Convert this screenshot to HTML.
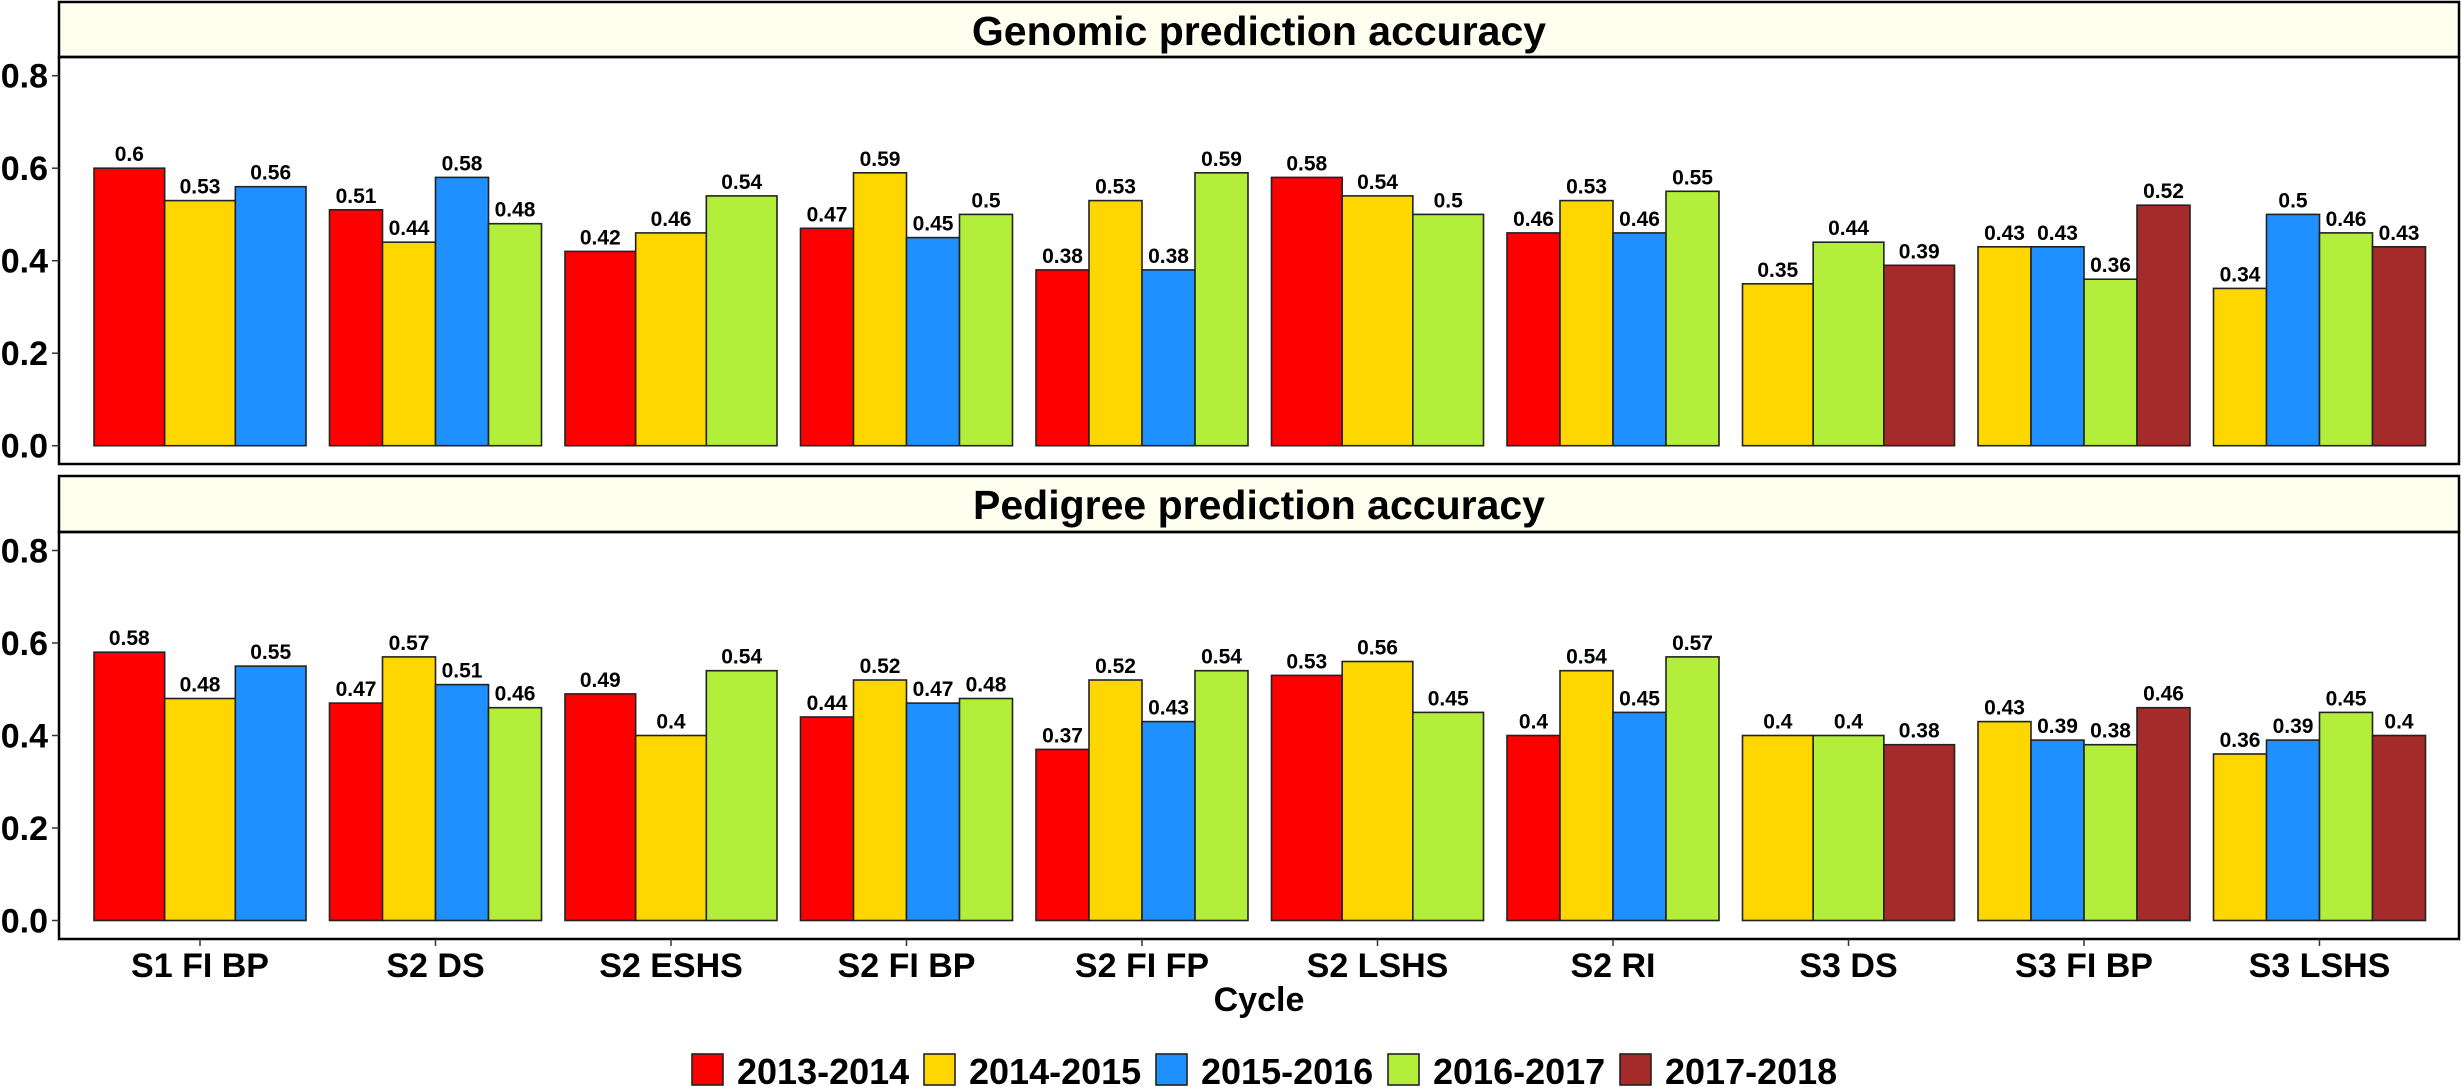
<!DOCTYPE html>
<html><head><meta charset="utf-8"><style>
html,body{margin:0;padding:0;background:#fff}
svg{display:block;font-family:"Liberation Sans",Arial,sans-serif;font-weight:bold}
.r{fill:#FF0000}.y{fill:#FFD700}.b{fill:#1E90FF}.g{fill:#B3EE3A}.m{fill:#A52A2A}
rect.r,rect.y,rect.b,rect.g,rect.m{stroke:#222;stroke-width:1.6}
.v{font-size:21px;text-anchor:middle}
.yt{font-size:34px;text-anchor:end}
.xt{font-size:34px;text-anchor:middle}
.lg{font-size:36px}
</style></head><body>
<svg width="2461" height="1087" viewBox="0 0 2461 1087" xmlns="http://www.w3.org/2000/svg">
<rect x="0" y="0" width="2461" height="1087" fill="#fff"/>
<!-- strips -->
<rect x="59" y="2" width="2400" height="55" fill="#FFFFF0" stroke="#000" stroke-width="2.5"/>
<text x="1259" y="45" font-size="41" text-anchor="middle">Genomic prediction accuracy</text>
<rect x="59" y="476" width="2400" height="56" fill="#FFFFF0" stroke="#000" stroke-width="2.5"/>
<text x="1259" y="519" font-size="41" text-anchor="middle">Pedigree prediction accuracy</text>
<!-- panel borders -->
<rect x="59" y="57" width="2400" height="407" fill="none" stroke="#000" stroke-width="2.5"/>
<rect x="59" y="532" width="2400" height="407" fill="none" stroke="#000" stroke-width="2.5"/>
<!-- y ticks -->
<g stroke="#333" stroke-width="1.5">
<line x1="52" x2="59" y1="445.7" y2="445.7"/><line x1="52" x2="59" y1="353.2" y2="353.2"/><line x1="52" x2="59" y1="260.7" y2="260.7"/><line x1="52" x2="59" y1="168.2" y2="168.2"/><line x1="52" x2="59" y1="75.7" y2="75.7"/>
<line x1="52" x2="59" y1="920.5" y2="920.5"/><line x1="52" x2="59" y1="828" y2="828"/><line x1="52" x2="59" y1="735.5" y2="735.5"/><line x1="52" x2="59" y1="643" y2="643"/><line x1="52" x2="59" y1="550.5" y2="550.5"/>
</g>
<g class="yt">
<text x="48" y="457.7">0.0</text><text x="48" y="365.2">0.2</text><text x="48" y="272.7">0.4</text><text x="48" y="180.2">0.6</text><text x="48" y="87.7">0.8</text>
<text x="48" y="932.5">0.0</text><text x="48" y="840">0.2</text><text x="48" y="747.5">0.4</text><text x="48" y="655">0.6</text><text x="48" y="562.5">0.8</text>
</g>
<!-- TOP PANEL -->
<g transform="translate(0,445.7)">
<g transform="translate(94,0)">
<rect class="r" x="0" y="-277.5" width="70.67" height="277.5"/><rect class="y" x="70.67" y="-245.1" width="70.67" height="245.1"/><rect class="b" x="141.33" y="-259" width="70.67" height="259"/>
<text class="v" x="35.3" y="-284.5">0.6</text><text class="v" x="106" y="-252.1">0.53</text><text class="v" x="176.7" y="-266">0.56</text></g>
<g transform="translate(329.5,0)">
<rect class="r" x="0" y="-235.9" width="53" height="235.9"/><rect class="y" x="53" y="-203.5" width="53" height="203.5"/><rect class="b" x="106" y="-268.3" width="53" height="268.3"/><rect class="g" x="159" y="-222" width="53" height="222"/>
<text class="v" x="26.5" y="-242.9">0.51</text><text class="v" x="79.5" y="-210.5">0.44</text><text class="v" x="132.5" y="-275.3">0.58</text><text class="v" x="185.5" y="-229">0.48</text></g>
<g transform="translate(565,0)">
<rect class="r" x="0" y="-194.3" width="70.67" height="194.3"/><rect class="y" x="70.67" y="-212.8" width="70.67" height="212.8"/><rect class="g" x="141.33" y="-249.8" width="70.67" height="249.8"/>
<text class="v" x="35.3" y="-201.3">0.42</text><text class="v" x="106" y="-219.8">0.46</text><text class="v" x="176.7" y="-256.8">0.54</text></g>
<g transform="translate(800.5,0)">
<rect class="r" x="0" y="-217.4" width="53" height="217.4"/><rect class="y" x="53" y="-272.9" width="53" height="272.9"/><rect class="b" x="106" y="-208.1" width="53" height="208.1"/><rect class="g" x="159" y="-231.3" width="53" height="231.3"/>
<text class="v" x="26.5" y="-224.4">0.47</text><text class="v" x="79.5" y="-279.9">0.59</text><text class="v" x="132.5" y="-215.1">0.45</text><text class="v" x="185.5" y="-238.3">0.5</text></g>
<g transform="translate(1036,0)">
<rect class="r" x="0" y="-175.8" width="53" height="175.8"/><rect class="y" x="53" y="-245.1" width="53" height="245.1"/><rect class="b" x="106" y="-175.8" width="53" height="175.8"/><rect class="g" x="159" y="-272.9" width="53" height="272.9"/>
<text class="v" x="26.5" y="-182.8">0.38</text><text class="v" x="79.5" y="-252.1">0.53</text><text class="v" x="132.5" y="-182.8">0.38</text><text class="v" x="185.5" y="-279.9">0.59</text></g>
<g transform="translate(1271.5,0)">
<rect class="r" x="0" y="-268.3" width="70.67" height="268.3"/><rect class="y" x="70.67" y="-249.8" width="70.67" height="249.8"/><rect class="g" x="141.33" y="-231.3" width="70.67" height="231.3"/>
<text class="v" x="35.3" y="-275.3">0.58</text><text class="v" x="106" y="-256.8">0.54</text><text class="v" x="176.7" y="-238.3">0.5</text></g>
<g transform="translate(1507,0)">
<rect class="r" x="0" y="-212.8" width="53" height="212.8"/><rect class="y" x="53" y="-245.1" width="53" height="245.1"/><rect class="b" x="106" y="-212.8" width="53" height="212.8"/><rect class="g" x="159" y="-254.4" width="53" height="254.4"/>
<text class="v" x="26.5" y="-219.8">0.46</text><text class="v" x="79.5" y="-252.1">0.53</text><text class="v" x="132.5" y="-219.8">0.46</text><text class="v" x="185.5" y="-261.4">0.55</text></g>
<g transform="translate(1742.5,0)">
<rect class="y" x="0" y="-161.9" width="70.67" height="161.9"/><rect class="g" x="70.67" y="-203.5" width="70.67" height="203.5"/><rect class="m" x="141.33" y="-180.4" width="70.67" height="180.4"/>
<text class="v" x="35.3" y="-168.9">0.35</text><text class="v" x="106" y="-210.5">0.44</text><text class="v" x="176.7" y="-187.4">0.39</text></g>
<g transform="translate(1978,0)">
<rect class="y" x="0" y="-198.9" width="53" height="198.9"/><rect class="b" x="53" y="-198.9" width="53" height="198.9"/><rect class="g" x="106" y="-166.5" width="53" height="166.5"/><rect class="m" x="159" y="-240.5" width="53" height="240.5"/>
<text class="v" x="26.5" y="-205.9">0.43</text><text class="v" x="79.5" y="-205.9">0.43</text><text class="v" x="132.5" y="-173.5">0.36</text><text class="v" x="185.5" y="-247.5">0.52</text></g>
<g transform="translate(2213.5,0)">
<rect class="y" x="0" y="-157.3" width="53" height="157.3"/><rect class="b" x="53" y="-231.3" width="53" height="231.3"/><rect class="g" x="106" y="-212.8" width="53" height="212.8"/><rect class="m" x="159" y="-198.9" width="53" height="198.9"/>
<text class="v" x="26.5" y="-164.3">0.34</text><text class="v" x="79.5" y="-238.3">0.5</text><text class="v" x="132.5" y="-219.8">0.46</text><text class="v" x="185.5" y="-205.9">0.43</text></g>
</g>
<!-- BOTTOM PANEL -->
<g transform="translate(0,920.5)">
<g transform="translate(94,0)">
<rect class="r" x="0" y="-268.3" width="70.67" height="268.3"/><rect class="y" x="70.67" y="-222" width="70.67" height="222"/><rect class="b" x="141.33" y="-254.4" width="70.67" height="254.4"/>
<text class="v" x="35.3" y="-275.3">0.58</text><text class="v" x="106" y="-229">0.48</text><text class="v" x="176.7" y="-261.4">0.55</text></g>
<g transform="translate(329.5,0)">
<rect class="r" x="0" y="-217.4" width="53" height="217.4"/><rect class="y" x="53" y="-263.6" width="53" height="263.6"/><rect class="b" x="106" y="-235.9" width="53" height="235.9"/><rect class="g" x="159" y="-212.8" width="53" height="212.8"/>
<text class="v" x="26.5" y="-224.4">0.47</text><text class="v" x="79.5" y="-270.6">0.57</text><text class="v" x="132.5" y="-242.9">0.51</text><text class="v" x="185.5" y="-219.8">0.46</text></g>
<g transform="translate(565,0)">
<rect class="r" x="0" y="-226.6" width="70.67" height="226.6"/><rect class="y" x="70.67" y="-185" width="70.67" height="185"/><rect class="g" x="141.33" y="-249.8" width="70.67" height="249.8"/>
<text class="v" x="35.3" y="-233.6">0.49</text><text class="v" x="106" y="-192">0.4</text><text class="v" x="176.7" y="-256.8">0.54</text></g>
<g transform="translate(800.5,0)">
<rect class="r" x="0" y="-203.5" width="53" height="203.5"/><rect class="y" x="53" y="-240.5" width="53" height="240.5"/><rect class="b" x="106" y="-217.4" width="53" height="217.4"/><rect class="g" x="159" y="-222" width="53" height="222"/>
<text class="v" x="26.5" y="-210.5">0.44</text><text class="v" x="79.5" y="-247.5">0.52</text><text class="v" x="132.5" y="-224.4">0.47</text><text class="v" x="185.5" y="-229">0.48</text></g>
<g transform="translate(1036,0)">
<rect class="r" x="0" y="-171.1" width="53" height="171.1"/><rect class="y" x="53" y="-240.5" width="53" height="240.5"/><rect class="b" x="106" y="-198.9" width="53" height="198.9"/><rect class="g" x="159" y="-249.8" width="53" height="249.8"/>
<text class="v" x="26.5" y="-178.1">0.37</text><text class="v" x="79.5" y="-247.5">0.52</text><text class="v" x="132.5" y="-205.9">0.43</text><text class="v" x="185.5" y="-256.8">0.54</text></g>
<g transform="translate(1271.5,0)">
<rect class="r" x="0" y="-245.1" width="70.67" height="245.1"/><rect class="y" x="70.67" y="-259" width="70.67" height="259"/><rect class="g" x="141.33" y="-208.1" width="70.67" height="208.1"/>
<text class="v" x="35.3" y="-252.1">0.53</text><text class="v" x="106" y="-266">0.56</text><text class="v" x="176.7" y="-215.1">0.45</text></g>
<g transform="translate(1507,0)">
<rect class="r" x="0" y="-185" width="53" height="185"/><rect class="y" x="53" y="-249.8" width="53" height="249.8"/><rect class="b" x="106" y="-208.1" width="53" height="208.1"/><rect class="g" x="159" y="-263.6" width="53" height="263.6"/>
<text class="v" x="26.5" y="-192">0.4</text><text class="v" x="79.5" y="-256.8">0.54</text><text class="v" x="132.5" y="-215.1">0.45</text><text class="v" x="185.5" y="-270.6">0.57</text></g>
<g transform="translate(1742.5,0)">
<rect class="y" x="0" y="-185" width="70.67" height="185"/><rect class="g" x="70.67" y="-185" width="70.67" height="185"/><rect class="m" x="141.33" y="-175.8" width="70.67" height="175.8"/>
<text class="v" x="35.3" y="-192">0.4</text><text class="v" x="106" y="-192">0.4</text><text class="v" x="176.7" y="-182.8">0.38</text></g>
<g transform="translate(1978,0)">
<rect class="y" x="0" y="-198.9" width="53" height="198.9"/><rect class="b" x="53" y="-180.4" width="53" height="180.4"/><rect class="g" x="106" y="-175.8" width="53" height="175.8"/><rect class="m" x="159" y="-212.8" width="53" height="212.8"/>
<text class="v" x="26.5" y="-205.9">0.43</text><text class="v" x="79.5" y="-187.4">0.39</text><text class="v" x="132.5" y="-182.8">0.38</text><text class="v" x="185.5" y="-219.8">0.46</text></g>
<g transform="translate(2213.5,0)">
<rect class="y" x="0" y="-166.5" width="53" height="166.5"/><rect class="b" x="53" y="-180.4" width="53" height="180.4"/><rect class="g" x="106" y="-208.1" width="53" height="208.1"/><rect class="m" x="159" y="-185" width="53" height="185"/>
<text class="v" x="26.5" y="-173.5">0.36</text><text class="v" x="79.5" y="-187.4">0.39</text><text class="v" x="132.5" y="-215.1">0.45</text><text class="v" x="185.5" y="-192">0.4</text></g>
</g>
<!-- x ticks -->
<g stroke="#333" stroke-width="1.5">
<line x1="200" x2="200" y1="939" y2="946"/><line x1="435.5" x2="435.5" y1="939" y2="946"/><line x1="671" x2="671" y1="939" y2="946"/><line x1="906.5" x2="906.5" y1="939" y2="946"/><line x1="1142" x2="1142" y1="939" y2="946"/><line x1="1377.5" x2="1377.5" y1="939" y2="946"/><line x1="1613" x2="1613" y1="939" y2="946"/><line x1="1848.5" x2="1848.5" y1="939" y2="946"/><line x1="2084" x2="2084" y1="939" y2="946"/><line x1="2319.5" x2="2319.5" y1="939" y2="946"/>
</g>
<g class="xt">
<text x="200" y="977">S1 FI BP</text><text x="435.5" y="977">S2 DS</text><text x="671" y="977">S2 ESHS</text><text x="906.5" y="977">S2 FI BP</text><text x="1142" y="977">S2 FI FP</text><text x="1377.5" y="977">S2 LSHS</text><text x="1613" y="977">S2 RI</text><text x="1848.5" y="977">S3 DS</text><text x="2084" y="977">S3 FI BP</text><text x="2319.5" y="977">S3 LSHS</text>
<text x="1259" y="1011">Cycle</text>
</g>
<!-- legend -->
<g>
<rect class="r" x="692" y="1054" width="31" height="31"/><text class="lg" x="737" y="1084">2013-2014</text>
<rect class="y" x="924" y="1054" width="31" height="31"/><text class="lg" x="969" y="1084">2014-2015</text>
<rect class="b" x="1156" y="1054" width="31" height="31"/><text class="lg" x="1201" y="1084">2015-2016</text>
<rect class="g" x="1388" y="1054" width="31" height="31"/><text class="lg" x="1433" y="1084">2016-2017</text>
<rect class="m" x="1620" y="1054" width="31" height="31"/><text class="lg" x="1665" y="1084">2017-2018</text>
</g>
</svg>
</body></html>
